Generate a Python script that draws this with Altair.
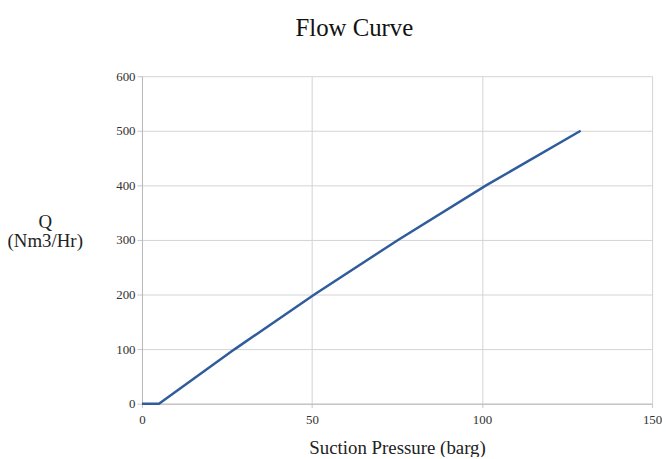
import altair as alt
import pandas as pd

pressure = [0, 5, 27.3, 50.7, 75.3, 101.2, 129]
flow = [0, 0, 100, 200, 300, 400, 500]

df = pd.DataFrame({"pressure": pressure, "flow": flow})

FONT = "Liberation Serif"

chart = (
    alt.Chart(df)
    .mark_line(color="#2f5d9c", strokeWidth=2.5)
    .encode(
        x=alt.X(
            "pressure:Q",
            scale=alt.Scale(domain=[0, 150], nice=False),
            axis=alt.Axis(
                values=[0, 50, 100, 150],
                title="Suction Pressure (barg)",
                titleFont=FONT,
                titleFontSize=19,
                titleFontWeight="normal",
                titleColor="#222222",
                titlePadding=12,
                labelFont=FONT,
                labelFontSize=13,
                labelColor="#333333",
                labelPadding=6,
                tickSize=4,
                tickColor="#c8c8c8",
                domainColor="#b8b8b8",
                gridColor="#d4d4d4",
                labelFlush=False,
            ),
        ),
        y=alt.Y(
            "flow:Q",
            scale=alt.Scale(domain=[0, 600], nice=False),
            axis=alt.Axis(
                values=[0, 100, 200, 300, 400, 500, 600],
                title=["Q", "(Nm3/Hr)"],
                titleFont=FONT,
                titleFontSize=19,
                titleFontWeight="normal",
                titleColor="#222222",
                titleAngle=0,
                titleAlign="center",
                titleBaseline="middle",
                titleX=-98,
                titleY=146,
                titleLineHeight=20,
                labelFont=FONT,
                labelFontSize=13,
                labelColor="#333333",
                labelPadding=2,
                tickSize=5,
                tickColor="#c8c8c8",
                domainColor="#b8b8b8",
                gridColor="#d4d4d4",
            ),
        ),
    )
    .properties(
        width=514,
        height=330,
        title=alt.TitleParams(
            "Flow Curve",
            font=FONT,
            fontSize=25,
            fontWeight="normal",
            color="#111111",
            anchor="middle",
            dx=-43,
            offset=30,
        ),
        padding={"left": 135, "top": 67, "right": 10, "bottom": 52},
        autosize=alt.AutoSizeParams(type="none"),
    )
    .configure_view(stroke=None)
)

chart.save("out.html", embed_options={"renderer": "svg", "actions": False})
